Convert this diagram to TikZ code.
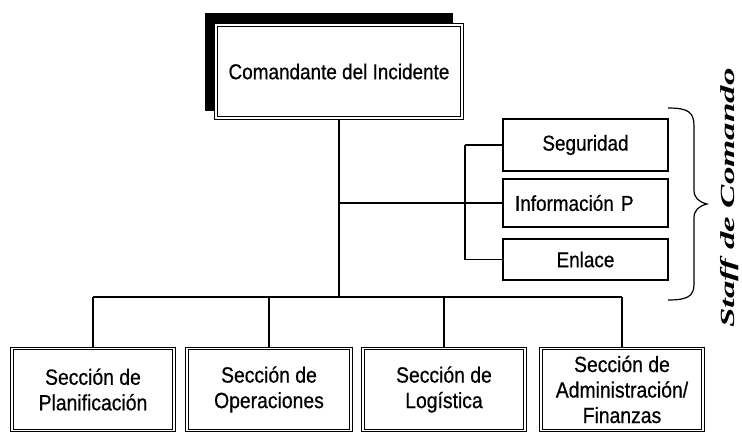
\documentclass[tikz,border=0pt]{standalone}
\usepackage{fontspec}
\setmainfont{Liberation Sans}[FakeStretch=0.88,FakeBold=0.6]
\newfontfamily\stafffont{Liberation Serif}
\usetikzlibrary{backgrounds,calc}
\begin{document}
\begin{tikzpicture}[x=1pt,y=-1pt,
  conn/.style={line width=1.3pt},
  cmdbox/.style={draw, line width=1pt, double=white, double distance=1.2pt, fill=white,
    minimum width=246pt, minimum height=93pt, inner sep=0pt,
    font=\fontsize{21.5}{24}\selectfont},
  staffbox/.style={draw, line width=1.2pt, fill=white, minimum width=165pt, inner sep=0pt,
    font=\fontsize{21.5}{24}\selectfont},
  secbox/.style={draw, line width=0.8pt, double=white, double distance=1.6pt, fill=white,
    minimum width=162pt, minimum height=82pt, inner sep=0pt, align=center,
    font=\fontsize{22}{25.5}\selectfont},
  stafflabel/.style={rotate=90, font=\stafffont\bfseries\itshape\fontsize{20}{24}\selectfont}
]
\useasboundingbox (0,0) rectangle (742,432);

% command box with shadow
\node[cmdbox] (cmd) at (339,71.5) {Comandante del Incidente};
\begin{scope}[on background layer]
  \fill[black] ($(cmd.north west)+(-11,-12)$) rectangle ($(cmd.south east)+(-10,-8)$);
\end{scope}

% command staff
\node[staffbox, minimum height=52pt] (seg) at (585.5,145) {Seguridad};
\node[staffbox, minimum height=48pt, text width=141pt, align=left] (info) at (585.5,203) {Información P};
\node[staffbox, minimum height=41pt] (enl) at (585.5,259.5) {Enlace};

% sections
\node[secbox] (b1) at (93,389.5) {Sección de\\Planificación};
\node[secbox, minimum width=164pt] (b2) at (269,389.5) {Sección de\\Operaciones};
\node[secbox] (b3) at (444,389.5) {Sección de\\Logística};
\node[secbox] (b4) at (622,389.5) {Sección de\\Administración/\\Finanzas};

% connectors
\coordinate (bus) at (340,297);
\coordinate (sb) at (465,203);
\draw[conn] (cmd.south) -- (cmd.south |- bus);
\draw[conn] (b1.north |- bus) -- (b4.north |- bus);
\foreach \b in {b1,b2,b3,b4} \draw[conn] (\b.north |- bus) -- (\b.north);
\draw[conn] (cmd.south |- info.west) -- (info.west);
\draw[conn] (sb |- seg.west) -- (sb |- enl.west);
\draw[conn] (sb |- seg.west) -- (seg.west);
\draw[conn] (sb |- enl.west) -- (enl.west);

% brace
\draw[line width=1.2pt] (668,108) .. controls (688,108) and (694,112) .. (694,126)
  -- (694,190) .. controls (694,198) and (699,202) .. (707,204)
  .. controls (699,206) and (694,210) .. (694,218)
  -- (694,284) .. controls (694,296) and (688,300) .. (668,300);

\node[stafflabel] (staff) at (730,198) {\scalebox{1.75}[1]{Staff de Comando}};
\end{tikzpicture}
\end{document}
